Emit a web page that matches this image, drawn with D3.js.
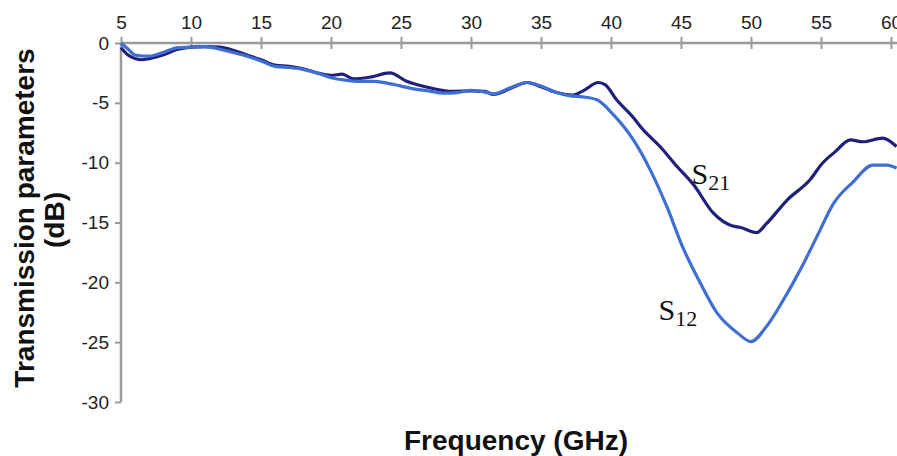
<!DOCTYPE html>
<html>
<head>
<meta charset="utf-8">
<script src="https://cdn.jsdelivr.net/npm/d3@7"></script>
<style>
  html, body { margin: 0; padding: 0; background: #fff; }
  svg { display: block; }
</style>
</head>
<body>
<svg id="chart" width="897" height="456"></svg>
<script>
// ---- data ----
const xTicks = [5, 10, 15, 20, 25, 30, 35, 40, 45, 50, 55, 60];
const yTicks = [0, -5, -10, -15, -20, -25, -30];

const s21Freq = [5,5.5,6,6.5,7,8,9,10,11,12,13,14,15,16,17,18,19,20,20.8,21.6,22.8,24.2,25.4,26.9,28.7,30,31,31.6,33,34,35,36,37.3,38,39.1,39.6,40.4,41.5,42.3,43.5,44.7,45.9,47.3,48.7,49.2,50.4,51.1,52.6,54.2,55.1,56,57.1,58,59.4,60.4];
const s21Values = [-0.4,-1.0,-1.3,-1.4,-1.3,-1.0,-0.55,-0.35,-0.3,-0.35,-0.6,-1.0,-1.4,-1.85,-1.95,-2.15,-2.5,-2.7,-2.6,-3.0,-2.85,-2.5,-3.2,-3.7,-4.05,-4.0,-4.05,-4.3,-3.7,-3.3,-3.65,-4.1,-4.35,-4.0,-3.3,-3.5,-4.75,-6.1,-7.25,-8.65,-10.3,-11.85,-14.2,-15.3,-15.4,-15.85,-15.1,-13.1,-11.45,-10.05,-9.1,-8.1,-8.25,-7.95,-8.65];

const s12Freq = [5,5.5,6,7,8,9,10,11,12,13,14,15,16,17,18,19,20,21,22,23,24,25,26,27,28,29,30,31,31.6,33,34,35,36,37,38,39,40.1,41.6,42.8,44,45.1,46.4,47.6,49,50,51.1,52.3,53.5,54.7,55.9,57.3,58.7,59.7,60.4];
const s12Values = [0,-0.5,-1.0,-1.1,-0.8,-0.4,-0.35,-0.3,-0.5,-0.8,-1.1,-1.5,-1.95,-2.05,-2.2,-2.5,-2.9,-3.1,-3.2,-3.2,-3.35,-3.6,-3.85,-4.0,-4.2,-4.15,-3.95,-4.1,-4.25,-3.65,-3.3,-3.6,-4.1,-4.4,-4.5,-4.75,-5.9,-8.1,-10.6,-13.7,-17,-20.1,-22.6,-24.2,-24.95,-23.7,-21.5,-19,-16.2,-13.4,-11.6,-10.2,-10.2,-10.45];

const seriesNames = ["S21", "S12"];

// ---- drawing ----
const svg = d3.select("#chart");
const W = 897;
const x = d3.scaleLinear().domain([5, 60]).range([121, 891]);
const y = d3.scaleLinear().domain([-30, 0]).range([402, 43]);

const axisColor = "#9a9a9a";
const tickFont = "'Liberation Sans', Arial, sans-serif";

// top x axis
const gx = svg.append("g").attr("transform", `translate(0,${y(0)})`)
  .call(d3.axisTop(x).tickValues(xTicks).tickSize(6).tickPadding(8).tickFormat(d3.format("d")));
gx.select(".domain").remove();
gx.selectAll(".tick line").attr("y1", 6).attr("y2", -6).attr("stroke", axisColor).attr("stroke-width", 2);
gx.selectAll(".tick text").attr("font-family", tickFont).attr("font-size", 19).attr("fill", "#222");
svg.append("line").attr("x1", x(5)).attr("x2", W).attr("y1", y(0)).attr("y2", y(0))
  .attr("stroke", axisColor).attr("stroke-width", 2.5);

// left y axis
const gy = svg.append("g").attr("transform", `translate(${x(5)},0)`)
  .call(d3.axisLeft(y).tickValues(yTicks).tickSize(6).tickPadding(6).tickFormat(d => d === 0 ? "0" : d3.format("d")(d).replace("−", "-")));
gy.select(".domain").remove();
gy.selectAll(".tick line").attr("stroke", axisColor).attr("stroke-width", 2);
gy.selectAll(".tick text").attr("font-family", tickFont).attr("font-size", 19).attr("fill", "#222");
svg.append("line").attr("x1", x(5)).attr("x2", x(5)).attr("y1", y(0)).attr("y2", y(-30))
  .attr("stroke", axisColor).attr("stroke-width", 2.5);

// lines
const line = d3.line().x(d => x(d[0])).y(d => y(d[1])).curve(d3.curveMonotoneX);
const s21 = s21Freq.map((f, i) => [f, s21Values[i]]);
const s12 = s12Freq.map((f, i) => [f, s12Values[i]]);

svg.append("path").datum(s21).attr("d", line).attr("fill", "none")
  .attr("stroke", "#20207a").attr("stroke-width", 3.2).attr("stroke-linejoin", "round");
svg.append("path").datum(s12).attr("d", line).attr("fill", "none")
  .attr("stroke", "#3f6fd2").attr("stroke-width", 3.2).attr("stroke-linejoin", "round");

// series labels
function seriesLabel(name, f, v, dx, dy) {
  const t = svg.append("text").attr("x", x(f) + dx).attr("y", y(v) + dy)
    .attr("font-family", "'Liberation Serif', 'Times New Roman', serif").attr("fill", "#111");
  t.append("tspan").attr("font-size", 30).text(name[0]);
  t.append("tspan").attr("font-size", 22).attr("dy", 6).text(name.slice(1));
}
seriesLabel(seriesNames[0], 45.9, -11.85, -2, -1);
seriesLabel(seriesNames[1], 45.9, -20.1, -35, 36);

// axis titles
svg.append("text").attr("x", 516).attr("y", 450).attr("text-anchor", "middle")
  .attr("font-family", tickFont).attr("font-weight", "bold").attr("font-size", 28).attr("fill", "#111")
  .text("Frequency (GHz)");
svg.append("text").attr("transform", "translate(34,218) rotate(-90)").attr("text-anchor", "middle")
  .attr("font-family", tickFont).attr("font-weight", "bold").attr("font-size", 28).attr("fill", "#111")
  .text("Transmission parameters");
svg.append("text").attr("transform", "translate(64,220) rotate(-90)").attr("text-anchor", "middle")
  .attr("font-family", tickFont).attr("font-weight", "bold").attr("font-size", 28).attr("fill", "#111")
  .text("(dB)");
</script>
</body>
</html>
